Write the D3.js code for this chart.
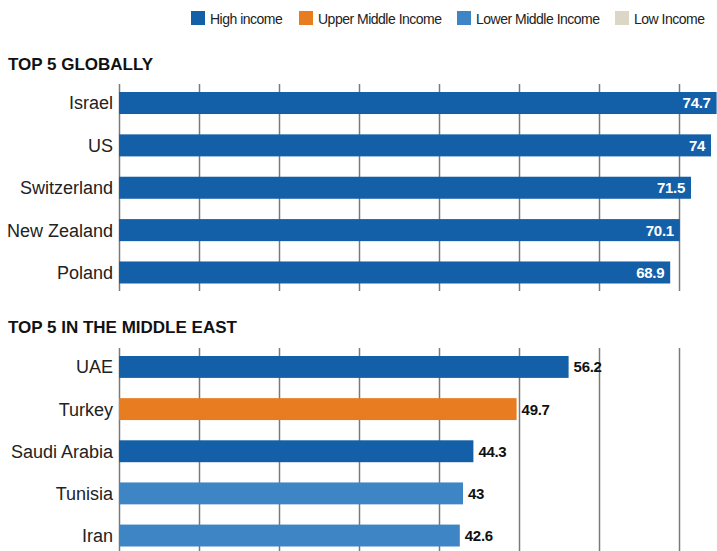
<!DOCTYPE html>
<html>
<head>
<meta charset="utf-8">
<script src="https://cdn.jsdelivr.net/npm/d3@7"></script>
<style>
  body { margin: 0; background: #fff; }
  svg { display: block; font-family: "Liberation Sans", Arial, sans-serif; }
  .grid line { stroke: #7a7a7a; stroke-width: 1.5px; }
  .grid .domain, .grid text { display: none; }
</style>
</head>
<body>
<div class="container"></div>
<script>
const WIDTH = 717;
const HEIGHT = 551;

// legend
var incomeGroups = ["High income", "Upper Middle Income", "Lower Middle Income", "Low Income"];
var incomeColors = ["#1460a8", "#e87c20", "#3e85c5", "#dbd7c7"];

// top 5 globally
var globalCountries = ["Israel", "US", "Switzerland", "New Zealand", "Poland"];
var globalValues = [74.7, 74, 71.5, 70.1, 68.9];
var globalGroups = ["High income", "High income", "High income", "High income", "High income"];

// top 5 middle east
var meCountries = ["UAE", "Turkey", "Saudi Arabia", "Tunisia", "Iran"];
var meValues = [56.2, 49.7, 44.3, 43, 42.6];
var meGroups = ["High income", "Upper Middle Income", "High income", "Lower Middle Income", "Lower Middle Income"];

var gridTicks = [0, 10, 20, 30, 40, 50, 60, 70];

var svg = d3.select('.container').append('svg')
  .attr('width', WIDTH)
  .attr('height', HEIGHT);

var xScale = d3.scaleLinear()
  .domain([0, 10])
  .range([119, 199]);

var color = d3.scaleOrdinal()
  .domain(incomeGroups)
  .range(incomeColors);

// legend
var legendX = [191, 299, 457, 615];
var legend = svg.selectAll('g.legend')
  .data(incomeGroups)
  .enter().append('g')
  .attr('class', 'legend')
  .attr('transform', function(d, i){ return 'translate(' + legendX[i] + ',11)'; });

legend.append('rect')
  .attr('width', 14)
  .attr('height', 14)
  .attr('fill', function(d){ return color(d); });

legend.append('text')
  .attr('x', 19)
  .attr('y', 12.5)
  .attr('font-size', '14px')
  .attr('letter-spacing', '-0.5px')
  .attr('fill', '#222')
  .text(function(d){ return d; });

var drawSection = function (title, titleY, gridTop, gridBottom, barTop, barBottom, countries, values, groups, inside) {
  svg.append('text')
    .attr('x', 8)
    .attr('y', titleY)
    .attr('font-size', '17px')
    .attr('font-weight', 'bold')
    .attr('fill', '#111')
    .text(title);

  var yScale = d3.scaleBand()
    .domain(countries)
    .range([barTop, barBottom])
    .paddingInner(0.48)
    .paddingOuter(0);

  svg.append('g')
    .attr('class', 'grid')
    .attr('transform', 'translate(0,' + gridTop + ')')
    .call(d3.axisBottom(xScale).tickValues(gridTicks).tickSize(gridBottom - gridTop).tickFormat(''));

  var rows = countries.map(function(c, i){ return {country: c, value: values[i], group: groups[i]}; });

  svg.selectAll(null)
    .data(rows)
    .enter().append('rect')
    .attr('x', xScale(0))
    .attr('y', function(d){ return yScale(d.country); })
    .attr('width', function(d){ return xScale(d.value) - xScale(0); })
    .attr('height', yScale.bandwidth())
    .attr('fill', function(d){ return color(d.group); });

  svg.selectAll(null)
    .data(rows)
    .enter().append('text')
    .attr('x', 113)
    .attr('y', function(d){ return yScale(d.country) + yScale.bandwidth() / 2; })
    .attr('dy', '0.36em')
    .attr('text-anchor', 'end')
    .attr('font-size', '18px')
    .attr('fill', '#222')
    .text(function(d){ return d.country; });

  svg.selectAll(null)
    .data(rows)
    .enter().append('text')
    .attr('x', function(d){ return inside ? xScale(d.value) - 6 : xScale(d.value) + 5; })
    .attr('y', function(d){ return yScale(d.country) + yScale.bandwidth() / 2; })
    .attr('dy', '0.36em')
    .attr('text-anchor', inside ? 'end' : 'start')
    .attr('font-size', '15px')
    .attr('font-weight', 'bold')
    .attr('letter-spacing', '-0.3px')
    .attr('fill', inside ? '#fff' : '#111')
    .text(function(d){ return d.value; });
};

drawSection('TOP 5 GLOBALLY', 70, 84, 291, 92, 283.5, globalCountries, globalValues, globalGroups, true);
drawSection('TOP 5 IN THE MIDDLE EAST', 333, 348, 551, 356, 546.5, meCountries, meValues, meGroups, false);
</script>
</body>
</html>
